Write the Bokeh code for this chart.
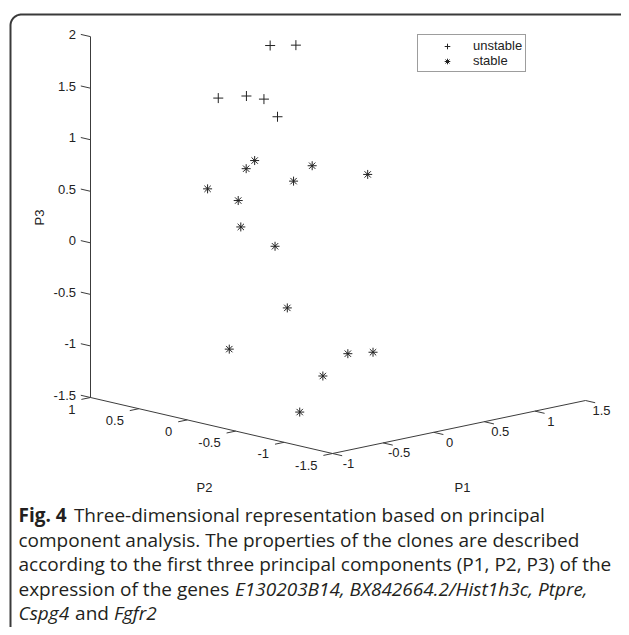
import numpy as np
from bokeh.plotting import figure
from bokeh.models import Range1d, Label, Legend, LegendItem
from bokeh.embed import file_html
from bokeh.resources import INLINE
from bokeh.core.properties import value

# ---------------- data ----------------
unstable_P1 = [0.01, 0.36, -0.12, -0.32, 0.14, -0.30]
unstable_P2 = [0.20, 0.30, 0.60, 0.10, 0.40, -0.20]
unstable_P3 = [1.88, 1.79, 1.31, 1.48, 1.29, 1.34]

stable_P1 = [-0.43, 0.06, -0.13, -0.34, 0.05, 0.40, -0.21, -0.28, -0.42,
             -0.49, 0.18, -0.37, 0.07, -0.33, -0.75]
stable_P2 = [-0.10, 0.50, 0.70, -0.60, 0.00, -0.40, 0.30, 0.20, -0.30,
             -0.50, 0.80, -1.00, -0.80, -0.70, -0.90]
stable_P3 = [0.92, 0.61, 0.41, 0.96, 0.60, 0.68, 0.40, 0.18, 0.13,
             -0.41, -1.23, -0.77, -0.89, -1.06, -1.28]

P1_lim = (-1.0, 1.5)
P2_lim = (-1.5, 1.0)
P3_lim = (-1.5, 2.0)
P1_ticks = [-1, -0.5, 0, 0.5, 1, 1.5]
P2_ticks = [-1.5, -1, -0.5, 0, 0.5, 1]
P3_ticks = [-1.5, -1, -0.5, 0, 0.5, 1, 1.5, 2]
P1_tick_labels = ["-1", "-0.5", "0", "0.5", "1", "1.5"]
P2_tick_labels = ["-1.5", "-1", "-0.5", "0", "0.5", "1"]
P3_tick_labels = ["-1.5", "-1", "-0.5", "0", "0.5", "1", "1.5", "2"]
axis_titles = ["P1", "P2", "P3"]
legend_labels = ["unstable", "stable"]

# ---------------- view geometry (screen px, y down) ----------------
W, H = 621, 627
ORIGIN = (332.0, 453.0)          # px of (P1min, P2min, P3min)
E1 = (101.2, -21.2)              # px per unit of P1 (x, y-down)
E2 = (-96.8, -22.4)              # px per unit of P2
E3 = (0.0, -103.1)               # px per unit of P3


def proj(a, b, c):
    a = np.asarray(a, float) - P1_lim[0]
    b = np.asarray(b, float) - P2_lim[0]
    c = np.asarray(c, float) - P3_lim[0]
    x = ORIGIN[0] + E1[0] * a + E2[0] * b + E3[0] * c
    y = ORIGIN[1] + E1[1] * a + E2[1] * b + E3[1] * c
    return x, y


p = figure(width=W, height=H, x_range=Range1d(0, W),
           y_range=Range1d(H, 0), output_backend="svg",
           toolbar_location=None, min_border=0,
           x_axis_location=None, y_axis_location=None)
p.grid.visible = False
p.outline_line_color = None
p.background_fill_color = "white"
p.border_fill_color = "white"

AX = "#3c3c3c"
TXT = "#222222"
TF = value("Liberation Sans")
TS = value("13px")

# rounded frame (top-left corner)
r = 11.0
th = np.linspace(np.pi, 1.5 * np.pi, 20)
fx = np.concatenate([[10.0], 10 + r + r * np.cos(th), [W + 5]])
fy = np.concatenate([[H + 5], 14 + r + r * np.sin(th), [14.0]])
p.line(fx, fy, line_color="#3a3a3a", line_width=2)

# axis lines
n = 2
ax1 = proj(P1_lim, [P2_lim[0]] * n, [P3_lim[0]] * n)
ax2 = proj([P1_lim[0]] * n, P2_lim, [P3_lim[0]] * n)
ax3 = proj([P1_lim[0]] * n, [P2_lim[1]] * n, P3_lim)
for ax in (ax1, ax2, ax3):
    p.line(ax[0], ax[1], line_color=AX, line_width=1)

# ticks
t1 = np.array(P1_ticks, float)
x0, y0 = proj(t1, np.full_like(t1, P2_lim[0]), np.full_like(t1, P3_lim[0]))
x1, y1 = proj(t1, np.full_like(t1, P2_lim[0] - 0.1), np.full_like(t1, P3_lim[0]))
p.segment(x0, y0, x1, y1, line_color=AX, line_width=1)
p.text(x0 + 16, y0 + 10, text=P1_tick_labels, text_font=TF, text_font_size=TS,
       text_color=TXT, text_align="center", text_baseline="middle")

t2 = np.array(P2_ticks, float)
x0, y0 = proj(np.full_like(t2, P1_lim[0]), t2, np.full_like(t2, P3_lim[0]))
x1, y1 = proj(np.full_like(t2, P1_lim[0] - 0.09), t2, np.full_like(t2, P3_lim[0]))
p.segment(x0, y0, x1, y1, line_color=AX, line_width=1)
p.text(x0 - 15, y0 + 11.5, text=P2_tick_labels, text_font=TF, text_font_size=TS,
       text_color=TXT, text_align="right", text_baseline="middle")

t3 = np.array(P3_ticks, float)
x0, y0 = proj(np.full_like(t3, P1_lim[0]), np.full_like(t3, P2_lim[1]), t3)
x1, y1 = proj(np.full_like(t3, P1_lim[0]), np.full_like(t3, P2_lim[1] + 0.1), t3)
p.segment(x0, y0, x1, y1, line_color=AX, line_width=1)
p.text(x0 - 14.5, y0 - 2, text=P3_tick_labels, text_font=TF, text_font_size=TS,
       text_color=TXT, text_align="right", text_baseline="middle")

# axis titles
lab_kw = dict(text_font="Liberation Sans", text_font_size="13px", text_color=TXT,
              text_align="center", text_baseline="middle")
p.add_layout(Label(x=462, y=487, text=axis_titles[0], **lab_kw))
p.add_layout(Label(x=204, y=487, text=axis_titles[1], **lab_kw))
p.add_layout(Label(x=39, y=217, text=axis_titles[2], angle=np.pi / 2, **lab_kw))

# data points
ux, uy = proj(unstable_P1, unstable_P2, unstable_P3)
sx, sy = proj(stable_P1, stable_P2, stable_P3)
r_u = p.scatter(ux, uy, marker="cross", size=10, line_color="#222222", line_width=1)
r_s = p.scatter(sx, sy, marker="asterisk", size=9, line_color="#222222", line_width=1)

legend = Legend(items=[LegendItem(label=legend_labels[0], renderers=[r_u]),
                       LegendItem(label=legend_labels[1], renderers=[r_s])],
                location=(417, H - 72),
                border_line_color="#3c3c3c", border_line_width=1,
                background_fill_alpha=1, padding=3, spacing=0, margin=0,
                glyph_width=52, glyph_height=14, label_height=14,
                label_standoff=0, label_text_font="Liberation Sans",
                label_text_font_size="13px", label_text_color=TXT)
p.add_layout(legend)

# caption
CF = "Open Sans"
CS = "19px"
CC = "#231f20"
ly = [514, 539, 563, 588, 612]
cap = [
    (18, ly[0], "Fig. 4", "bold"),
    (73.4, ly[0], "Three-dimensional representation based on principal", "normal"),
    (18, ly[1], "component analysis. The properties of the clones are described", "normal"),
    (18, ly[2], "according to the first three principal components (P1, P2, P3) of the", "normal"),
    (18, ly[3], "expression of the genes", "normal"),
    (234.5, ly[3], "E130203B14, BX842664.2/Hist1h3c, Ptpre,", "italic"),
    (18, ly[4], "Cspg4", "italic"),
    (74.6, ly[4], "and", "normal"),
    (113.4, ly[4], "Fgfr2", "italic"),
]
for cx, cy, ct, st in cap:
    p.add_layout(Label(x=cx, y=cy, text=ct, text_font=CF, text_font_size=CS,
                       text_font_style=st, text_color=CC, text_align="left",
                       text_baseline="middle"))

open("out.html", "w").write(file_html(p, INLINE))
